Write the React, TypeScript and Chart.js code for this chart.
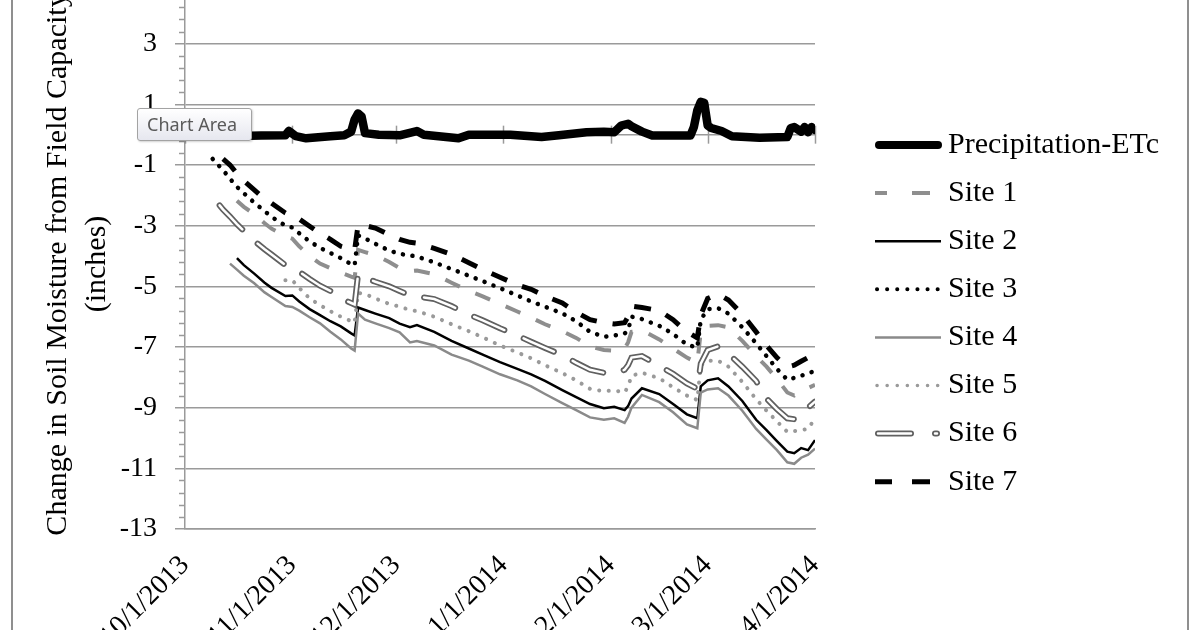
import React, { useEffect, useRef } from "react";
import { Chart, registerables } from "chart.js";

Chart.register(...registerables);

// ---------- data ----------
const xTickDays = [0, 31, 61, 92, 123, 151, 182];
const xTickLabels = ["10/1/2013", "11/1/2013", "12/1/2013", "1/1/2014", "2/1/2014", "3/1/2014", "4/1/2014"];
const yTickValues = [-13, -11, -9, -7, -5, -3, -1, 1, 3];
const yTitleLines = ["Change in Soil Moisture from Field Capacity", "(inches)"];
const legendLabels = ["Precipitation-ETc", "Site 1", "Site 2", "Site 3", "Site 4", "Site 5", "Site 6", "Site 7"];

// days since 10/1/2013
const precipDays = [1, 4, 13, 22, 29, 30, 32, 35, 42, 46, 48, 49, 50, 51, 52, 56, 62, 67, 69, 79, 82, 94, 103, 108, 116, 121, 124, 126, 128, 129, 132, 135, 146, 147, 148, 149, 150, 151, 152, 155, 158, 166, 174, 175, 176, 178, 179, 180, 181, 182];
const precipValues = [-0.05, -0.05, -0.05, -0.03, -0.02, 0.12, -0.05, -0.12, -0.05, -0.02, 0.1, 0.5, 0.7, 0.6, 0.05, 0, -0.02, 0.12, 0, -0.12, 0, 0, -0.08, -0.02, 0.08, 0.1, 0.08, 0.3, 0.36, 0.28, 0.1, -0.03, -0.03, 0.25, 0.8, 1.08, 1.05, 0.3, 0.22, 0.12, -0.05, -0.1, -0.08, 0.22, 0.25, 0.1, 0.25, 0.08, 0.25, 0.15];

const siteDays = [8, 10, 11, 13, 15, 17, 20, 23, 25, 29, 31, 33, 36, 39, 42, 45, 48, 49, 50, 52, 55, 59, 62, 65, 67, 72, 77, 82, 86, 91, 96, 100, 104, 109, 113, 117, 121, 124, 127, 128, 129, 132, 137, 141, 145, 148, 149, 151, 154, 157, 161, 165, 168, 171, 174, 176, 178, 180, 182];

const site1 = [null, null, null, null, -2.18, -2.38, -2.62, -2.92, -3.1,
  -3.35, -3.43, -3.68, -4.0, -4.25, -4.4, -4.55, -4.68, -4.72,
  -3.8, -3.87, -3.97, -4.2, -4.4, -4.5, -4.48, -4.6, -4.88,
  -5.15, -5.33, -5.58, -5.83, -6.03, -6.25, -6.48, -6.7, -6.98,
  -7.1, -7.12, -7.05, -6.85, -6.5, -6.45, -6.75, -7.05, -7.35,
  -7.52, -6.5, -6.3, -6.28, -6.35, -6.8, -7.3, -7.65, -8.05,
  -8.5, -8.6, -8.45, -8.35, -8.25];

const site2 = [null, null, null, null, -4.07, -4.3, -4.58, -4.88, -5.05,
  -5.32, -5.3, -5.5, -5.75, -5.95, -6.15, -6.32, -6.55, -6.62,
  -5.7, -5.78, -5.9, -6.05, -6.23, -6.35, -6.28, -6.5, -6.8,
  -7.05, -7.25, -7.5, -7.72, -7.9, -8.12, -8.42, -8.65, -8.88,
  -9.02, -8.97, -9.08, -8.95, -8.7, -8.36, -8.55, -8.88, -9.22,
  -9.35, -8.3, -8.1, -8.03, -8.3, -8.78, -9.4, -9.74, -10.1,
  -10.45, -10.5, -10.33, -10.4, -10.07];

const site3 = [-0.8, -1.05, -1.17, -1.45, -1.72, -1.93, -2.24, -2.52, -2.71,
  -3.0, -3.06, -3.25, -3.52, -3.73, -3.9, -4.07, -4.27, -4.32,
  -3.32, -3.42, -3.6, -3.82, -3.93, -3.98, -4.02, -4.21, -4.43,
  -4.65, -4.83, -5.06, -5.3, -5.5, -5.67, -5.89, -6.15, -6.5,
  -6.66, -6.62, -6.56, -6.45, -6.0, -6.08, -6.3, -6.57, -6.92,
  -7.02, -6.1, -5.75, -5.72, -5.9, -6.35, -6.88, -7.3, -7.72,
  -8.08, -8.02, -7.95, -7.86, -7.8];

const site4 = [null, null, null, -4.25, -4.45, -4.65, -4.9, -5.2, -5.35,
  -5.65, -5.68, -5.8, -6.02, -6.22, -6.5, -6.75, -7.05, -7.12,
  -5.9, -6.1, -6.22, -6.38, -6.52, -6.85, -6.8, -6.95, -7.25,
  -7.45, -7.65, -7.9, -8.1, -8.3, -8.55, -8.85, -9.08, -9.32,
  -9.4, -9.35, -9.5, -9.3, -9.0, -8.58, -8.82, -9.15, -9.55,
  -9.68, -8.5, -8.4, -8.36, -8.6, -9.1, -9.7, -10.05, -10.4,
  -10.8, -10.85, -10.65, -10.55, -10.35];

const site5 = [null, null, null, null, null, null, null, null, null,
  -4.8, -4.8, -5.05, -5.4, -5.62, -5.82, -6.0, -6.15, -6.2,
  -5.22, -5.25, -5.4, -5.58, -5.67, -5.78, -5.82, -6.0, -6.25,
  -6.48, -6.68, -6.95, -7.18, -7.37, -7.6, -7.86, -8.1, -8.38,
  -8.46, -8.43, -8.5, -8.3, -7.95, -7.85, -8.03, -8.33, -8.6,
  -8.75, -7.6, -7.45, -7.45, -7.65, -8.15, -8.72, -9.1, -9.45,
  -9.8, -9.77, -9.74, -9.7, -9.35];

const site6 = [null, -2.33, -2.47, -2.7, -2.95, -3.17, -3.5, -3.78, -3.95,
  -4.3, -4.42, -4.52, -4.76, -4.98, -5.15, -5.4, -5.55, -5.6,
  -4.6, -4.72, -4.85, -5.0, -5.15, -5.3, -5.33, -5.42, -5.65,
  -5.93, -6.12, -6.38, -6.62, -6.83, -7.03, -7.27, -7.52, -7.75,
  -7.85, -7.87, -7.75, -7.6, -7.35, -7.3, -7.62, -7.88, -8.2,
  -8.38, -7.55, -7.1, -6.98, -7.22, -7.65, -8.12, -8.7, -9.05,
  -9.35, -9.38, -9.22, -9.0, -8.8];

const site7 = [null, null, -0.8, -1.0, -1.28, -1.52, -1.82, -2.12, -2.26,
  -2.58, -2.68, -2.78, -3.02, -3.25, -3.45, -3.68, -3.78, -3.8,
  -2.98, -3.0, -3.08, -3.3, -3.45, -3.55, -3.58, -3.75, -3.95,
  -4.22, -4.45, -4.7, -4.95, -5.1, -5.32, -5.55, -5.85, -6.1,
  -6.2, -6.24, -6.2, -6.0, -5.65, -5.7, -5.8, -6.1, -6.5,
  -6.7, -5.95, -5.4, -5.25, -5.45, -5.92, -6.5, -6.95, -7.35,
  -7.66, -7.6, -7.47, -7.35, -7.3];

// ---------- styles ----------
const SERIF = '"Liberation Serif", "Times New Roman", serif';
const GRID = "#9a9a9a";
const CANVAS_TOP = -40;
const CANVAS_H = 720;
const MINOR_STEP = 0.4;

const toPoints = (days: number[], vals: (number | null)[]) =>
  days.map((d, i) => ({ x: d, y: vals[i] })).filter((p) => p.y !== null) as { x: number; y: number }[];

const decorPlugin = {
  id: "decor",
  beforeDatasetsDraw(chart: any) {
    const { ctx, chartArea, scales } = chart;
    const x = scales.x;
    const y = scales.y;
    ctx.save();
    ctx.strokeStyle = GRID;
    ctx.lineWidth = 1.5;
    // minor ticks on the value axis
    const n = Math.round((y.max - y.min) / MINOR_STEP);
    for (let k = 0; k <= n; k++) {
      if (k % 5 === 0) continue;
      const py = Math.round(y.getPixelForValue(y.min + k * MINOR_STEP)) + 0.5;
      ctx.beginPath();
      ctx.moveTo(chartArea.left - 6, py);
      ctx.lineTo(chartArea.left, py);
      ctx.stroke();
    }
    // horizontal axis crossing at zero with tick marks
    const y0 = y.getPixelForValue(0);
    ctx.beginPath();
    ctx.moveTo(chartArea.left, y0);
    ctx.lineTo(chartArea.right, y0);
    ctx.stroke();
    xTickDays.forEach((d) => {
      const px = Math.round(x.getPixelForValue(d)) + 0.5;
      ctx.beginPath();
      ctx.moveTo(px, y0 - 9);
      ctx.lineTo(px, y0 + 9);
      ctx.stroke();
    });
    ctx.restore();

    // value axis title (two lines, rotated)
    ctx.save();
    ctx.fillStyle = "#000";
    ctx.font = `30px ${SERIF}`;
    ctx.textAlign = "center";
    ctx.textBaseline = "middle";
    const titleX = [58, 97];
    yTitleLines.forEach((t, i) => {
      ctx.save();
      ctx.translate(titleX[i], 264 - CANVAS_TOP);
      ctx.rotate(-Math.PI / 2);
      ctx.fillText(t, 0, 0);
      ctx.restore();
    });
    ctx.restore();
  },
  afterDraw(chart: any) {
    const ctx: CanvasRenderingContext2D = chart.ctx;
    const X0 = 875;
    const TEXT_X = 948;
    const Y0 = 145;
    const DY = 48.1;
    const line = (x1: number, x2: number, yy: number, color: string, w: number, dash: number[], cap: CanvasLineCap) => {
      ctx.save();
      ctx.strokeStyle = color;
      ctx.lineWidth = w;
      ctx.lineCap = cap;
      ctx.setLineDash(dash);
      ctx.beginPath();
      ctx.moveTo(x1, yy);
      ctx.lineTo(x2, yy);
      ctx.stroke();
      ctx.restore();
    };
    legendLabels.forEach((label, i) => {
      const yy = Y0 + i * DY - CANVAS_TOP;
      switch (i) {
        case 0: line(X0 + 4, X0 + 63, yy, "#000", 8, [], "round"); break;
        case 1: line(X0, X0 + 55, yy, "#8e8e8e", 4, [12, 25, 18, 100], "butt"); break;
        case 2: line(X0, X0 + 66, yy, "#000", 2.5, [], "butt"); break;
        case 3: line(X0 + 2, X0 + 65, yy, "#000", 4, [0.1, 10], "round"); break;
        case 4: line(X0, X0 + 66, yy, "#8a8a8a", 2.5, [], "butt"); break;
        case 5: line(X0 + 2, X0 + 65, yy, "#9a9a9a", 3.5, [0.1, 10], "round"); break;
        case 6:
          line(X0 + 3, X0 + 62, yy, "#606060", 6, [33, 24, 2, 100], "round");
          line(X0 + 3, X0 + 62, yy, "#ffffff", 2.5, [33, 24, 2, 100], "round");
          break;
        case 7: line(X0, X0 + 55, yy, "#000", 5, [17, 20, 18, 100], "butt"); break;
      }
      ctx.save();
      ctx.fillStyle = "#000";
      ctx.font = `30px ${SERIF}`;
      ctx.textAlign = "left";
      ctx.textBaseline = "middle";
      ctx.fillText(label, TEXT_X, yy);
      ctx.restore();
    });
  },
};

export default function App() {
  const ref = useRef<HTMLCanvasElement>(null);
  useEffect(() => {
    const canvas = ref.current;
    if (!canvas) return;
    const chart = new Chart(canvas, {
      type: "line",
      data: {
        datasets: [
          { label: "Precipitation-ETc", data: toPoints(precipDays, precipValues), borderColor: "#000", borderWidth: 8.5, borderJoinStyle: "round", borderCapStyle: "round", order: 9 },
          { label: "Site 1", data: toPoints(siteDays, site1), borderColor: "#8e8e8e", borderWidth: 4, borderDash: [16, 17], order: 8 },
          { label: "Site 2", data: toPoints(siteDays, site2), borderColor: "#000", borderWidth: 2.5, order: 7 },
          { label: "Site 3", data: toPoints(siteDays, site3), borderColor: "#000", borderWidth: 4.5, borderDash: [0.1, 9.5], borderCapStyle: "round", order: 6 },
          { label: "Site 4", data: toPoints(siteDays, site4), borderColor: "#8a8a8a", borderWidth: 2.5, order: 5 },
          { label: "Site 5", data: toPoints(siteDays, site5), borderColor: "#9a9a9a", borderWidth: 4, borderDash: [0.1, 9.5], borderCapStyle: "round", order: 4 },
          { label: "Site 6", data: toPoints(siteDays, site6), borderColor: "#606060", borderWidth: 6, borderDash: [33, 21], borderCapStyle: "round", order: 3 },
          { label: "Site 6 inner", data: toPoints(siteDays, site6), borderColor: "#ffffff", borderWidth: 2.5, borderDash: [33, 21], borderCapStyle: "round", order: 2.5 },
          { label: "Site 7", data: toPoints(siteDays, site7), borderColor: "#000", borderWidth: 5, borderDash: [17, 16], order: 1 },
        ] as any,
      },
      options: {
        animation: false,
        responsive: false,
        devicePixelRatio: 1,
        layout: { padding: { top: 23, right: 385, bottom: 0, left: 0 } },
        elements: { point: { radius: 0, hoverRadius: 0 }, line: { tension: 0 } },
        plugins: { legend: { display: false }, tooltip: { enabled: false } },
        events: [],
        scales: {
          x: {
            type: "linear",
            min: 0,
            max: 182,
            position: "bottom",
            grid: { display: false, drawTicks: false },
            border: { display: true, color: GRID, width: 1.5 },
            ticks: {
              font: { family: SERIF, size: 28 },
              color: "#000",
              minRotation: 45,
              maxRotation: 45,
              autoSkip: false,
              padding: 20,
              callback: (v: any) => xTickLabels[xTickDays.indexOf(Number(v))] ?? "",
            },
            afterBuildTicks: (s: any) => {
              s.ticks = xTickDays.map((v) => ({ value: v }));
            },
            afterFit: (s: any) => {
              s.height = CANVAS_H - 569;
              s.paddingLeft = 0;
              s.paddingRight = 0;
            },
          },
          y: {
            type: "linear",
            min: -13,
            max: 5,
            grid: { color: GRID, lineWidth: 1.5, tickLength: 10, drawTicks: true },
            border: { display: true, color: GRID, width: 1.5 },
            ticks: {
              font: { family: SERIF, size: 28 },
              color: "#000",
              padding: 18,
              callback: (v: any) => String(v),
            },
            afterBuildTicks: (s: any) => {
              s.ticks = yTickValues.map((v) => ({ value: v }));
            },
            afterFit: (s: any) => {
              s.width = 185;
              s.paddingTop = 0;
              s.paddingBottom = 0;
            },
          },
        },
      } as any,
      plugins: [decorPlugin],
    });
    return () => chart.destroy();
  }, []);

  return (
    <div style={{ position: "fixed", left: 0, top: 0, width: 1200, height: 630, overflow: "hidden", background: "#fff" }}>
      <canvas
        ref={ref}
        width={1200}
        height={CANVAS_H}
        style={{ position: "absolute", left: 0, top: CANVAS_TOP, width: 1200, height: CANVAS_H }}
      />
      <div style={{ position: "absolute", left: 11, top: 0, width: 2, height: 630, background: "#8f8f8f" }} />
      <div style={{ position: "absolute", left: 1187, top: 0, width: 2, height: 630, background: "#8f8f8f" }} />
      <div
        style={{
          position: "absolute",
          left: 137,
          top: 108,
          width: 115,
          height: 33,
          boxSizing: "border-box",
          border: "1px solid #a3a3a3",
          borderRadius: 3,
          background: "linear-gradient(#ffffff, #e6e7ef)",
          boxShadow: "1px 1px 2px rgba(0,0,0,0.18)",
          color: "#5a5a5a",
          fontFamily: '"Noto Sans", "Open Sans", sans-serif',
          fontSize: 18,
          lineHeight: "31px",
          paddingLeft: 9,
          whiteSpace: "nowrap",
        }}
      >
        Chart Area
      </div>
    </div>
  );
}
